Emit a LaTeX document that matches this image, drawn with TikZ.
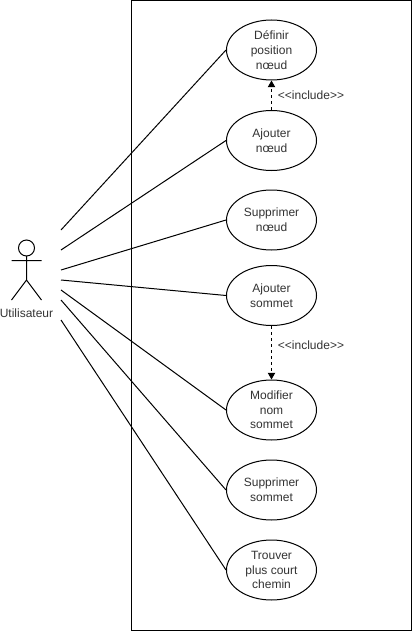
\documentclass[tikz,border=0pt]{standalone}
\usepackage{fontspec}
\setmainfont{Liberation Sans}
\usetikzlibrary{arrows.meta,shapes.geometric}
\tikzset{
  usecase/.style={draw=black,line width=0.75pt,ellipse,minimum width=67.5pt,minimum height=45pt,inner sep=0pt,align=center,font=\fontsize{9}{11}\selectfont,text=black!80,fill=white},
  assoc/.style={draw=black,line width=0.75pt},
  incl/.style={draw=black,line width=0.75pt,dash pattern=on 2.25pt off 2.25pt,-{Triangle[length=5pt,width=5.5pt]}},
  lbl/.style={font=\fontsize{9}{12}\selectfont,text=black!80,inner sep=0pt}
}
\begin{document}
\begin{tikzpicture}[x=0.75pt,y=-0.75pt]
\useasboundingbox (0,0) rectangle (412,631);
\node[draw=black,line width=0.75pt,minimum width=210.2pt,minimum height=472pt,inner sep=0pt,anchor=north west] (frame) at (131,0.5) {};
\node[usecase] (u1) at (271.5,50) {Définir\\position\\nœud};
\node[usecase] (u2) at (271.5,140.5) {Ajouter\\nœud};
\node[usecase] (u3) at (271.5,220) {Supprimer\\nœud};
\node[usecase] (u4) at (271.5,295.5) {Ajouter\\sommet};
\node[usecase] (u5) at (271.5,410) {Modifier\\nom\\sommet};
\node[usecase] (u6) at (271.5,490) {Supprimer\\sommet};
\node[usecase] (u7) at (271.5,570) {Trouver\\plus court\\chemin};
% actor
\draw[assoc] (26.5,248) circle (6pt);
\draw[assoc] (26.5,256) -- (26.5,280) (11.5,260.5) -- (41.5,260.5) (11.5,300) -- (26.5,280) -- (41.5,300);
\node[lbl] (actor) at (26.5,313) {Utilisateur};
\coordinate (a1) at (61,230);
\coordinate (a2) at (61,250);
\coordinate (a3) at (61,270);
\coordinate (a4) at (61,280);
\coordinate (a5) at (61,290);
\coordinate (a6) at (61,300);
\coordinate (a7) at (61,320);
\draw[assoc] (a1) -- (u1.west);
\draw[assoc] (a2) -- (u2.west);
\draw[assoc] (a3) -- (u3.west);
\draw[assoc] (a4) -- (u4.west);
\draw[assoc] (a5) -- (u5.west);
\draw[assoc] (a6) -- (u6.west);
\draw[assoc] (a7) -- (u7.west);
\draw[incl] (u2) -- (u1);
\draw[incl] (u4) -- (u5);
\node[lbl] (l1) at (311,95) {<{}<include>{}>};
\node[lbl] (l2) at (311,345) {<{}<include>{}>};
\end{tikzpicture}
\end{document}
